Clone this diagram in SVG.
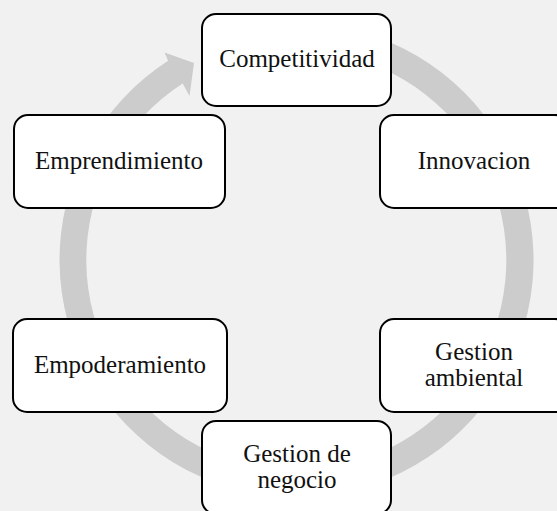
<svg xmlns="http://www.w3.org/2000/svg" width="557" height="511" viewBox="0 0 557 511">
  <style>
    .box { fill: #ffffff; stroke: #000000; stroke-width: 2; }
    .lbl { font-family: "Liberation Serif", "Times New Roman", serif; font-size: 25px; fill: #111111; text-anchor: middle; }
    .ring { fill: #cccccc; stroke: none; }
  </style>
  <rect x="0" y="0" width="557" height="511" fill="#f1f1f1"/>
  <g id="connectors">
    <path class="ring" d="M 215.4 37.3 A 237 237 0 1 1 168.1 60.8 L 164.5 52.5 L 194 63 L 189.5 96 L 182.7 83.5 A 210 210 0 1 0 224.7 62.7 Z"/>
  </g>
  <g id="node-competitividad">
    <rect class="box" x="202" y="14" width="189" height="92" rx="14"/>
    <text class="lbl" x="297" y="67">Competitividad</text>
  </g>
  <g id="node-emprendimiento">
    <rect class="box" x="14" y="115" width="211" height="93" rx="14"/>
    <text class="lbl" x="119" y="168.5">Emprendimiento</text>
  </g>
  <g id="node-innovacion">
    <rect class="box" x="380" y="115" width="189" height="93" rx="14"/>
    <text class="lbl" x="474" y="168.5">Innovacion</text>
  </g>
  <g id="node-empoderamiento">
    <rect class="box" x="13" y="319" width="214" height="93" rx="14"/>
    <text class="lbl" x="120" y="372.5">Empoderamiento</text>
  </g>
  <g id="node-gestion-ambiental">
    <rect class="box" x="380" y="319" width="189" height="93" rx="14"/>
    <text class="lbl" x="474" y="359.5">Gestion</text>
    <text class="lbl" x="474" y="385.5">ambiental</text>
  </g>
  <g id="node-gestion-negocio">
    <rect class="box" x="202" y="421" width="189" height="93" rx="14"/>
    <text class="lbl" x="297" y="461.5">Gestion de</text>
    <text class="lbl" x="297" y="488">negocio</text>
  </g>
</svg>
